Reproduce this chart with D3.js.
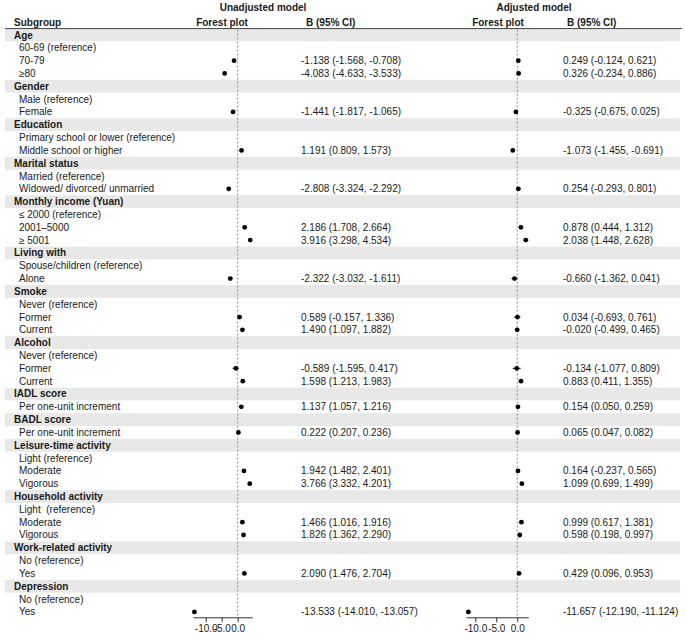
<!DOCTYPE html>
<html>
<head>
<meta charset="utf-8">
<script src="https://cdn.jsdelivr.net/npm/d3@7"></script>
<style>
  body { margin: 0; background: #fff; }
  svg { font-family: "Liberation Sans", Arial, Helvetica, sans-serif; }
  .lbl { font-size: 10px; fill: #1a1a1a; }
  .hdr { font-size: 10px; font-weight: bold; fill: #1a1a1a; }
  .axis text { font-size: 10px; fill: #1a1a1a; font-family: "Liberation Sans", Arial, sans-serif; }
  .axis line, .axis path { stroke: #333; }
</style>
</head>
<body>
<div id="chart"></div>
<script>
// subgroup rows, top to bottom
var labels = [
  'Age', '60-69 (reference)', '70-79', '\u226580',
  'Gender', 'Male (reference)', 'Female',
  'Education', 'Primary school or lower (reference)', 'Middle school or higher',
  'Marital status', 'Married (reference)', 'Widowed/ divorced/ unmarried',
  'Monthly income (Yuan)', '\u2264 2000 (reference)', '2001\u20135000', '\u2265 5001',
  'Living with', 'Spouse/children (reference)', 'Alone',
  'Smoke', 'Never (reference)', 'Former', 'Current',
  'Alcohol', 'Never (reference)', 'Former', 'Current',
  'IADL score', 'Per one-unit increment',
  'BADL score', 'Per one-unit increment',
  'Leisure-time activity', 'Light (reference)', 'Moderate', 'Vigorous',
  'Household activity', 'Light  (reference)', 'Moderate', 'Vigorous',
  'Work-related activity', 'No (reference)', 'Yes',
  'Depression', 'No (reference)', 'Yes'
];
// row indexes of section headers (shaded, bold)
var headerRows = [0, 4, 7, 10, 13, 17, 20, 24, 28, 30, 32, 36, 40, 43];

// unadjusted model: estimate, lower, upper (null = no estimate)
var unEst = [null, null, -1.138, -4.083, null, null, -1.441, null, null, 1.191, null, null, -2.808,
  null, null, 2.186, 3.916, null, null, -2.322, null, null, 0.589, 1.490, null, null, -0.589, 1.598,
  null, 1.137, null, 0.222, null, null, 1.942, 3.766, null, null, 1.466, 1.826, null, null, 2.090,
  null, null, -13.533];
var unLo = [null, null, -1.568, -4.633, null, null, -1.817, null, null, 0.809, null, null, -3.324,
  null, null, 1.708, 3.298, null, null, -3.032, null, null, -0.157, 1.097, null, null, -1.595, 1.213,
  null, 1.057, null, 0.207, null, null, 1.482, 3.332, null, null, 1.016, 1.362, null, null, 1.476,
  null, null, -14.010];
var unHi = [null, null, -0.708, -3.533, null, null, -1.065, null, null, 1.573, null, null, -2.292,
  null, null, 2.664, 4.534, null, null, -1.611, null, null, 1.336, 1.882, null, null, 0.417, 1.983,
  null, 1.216, null, 0.236, null, null, 2.401, 4.201, null, null, 1.916, 2.290, null, null, 2.704,
  null, null, -13.057];

// adjusted model
var adEst = [null, null, 0.249, 0.326, null, null, -0.325, null, null, -1.073, null, null, 0.254,
  null, null, 0.878, 2.038, null, null, -0.660, null, null, 0.034, -0.020, null, null, -0.134, 0.883,
  null, 0.154, null, 0.065, null, null, 0.164, 1.099, null, null, 0.999, 0.598, null, null, 0.429,
  null, null, -11.657];
var adLo = [null, null, -0.124, -0.234, null, null, -0.675, null, null, -1.455, null, null, -0.293,
  null, null, 0.444, 1.448, null, null, -1.362, null, null, -0.693, -0.499, null, null, -1.077, 0.411,
  null, 0.050, null, 0.047, null, null, -0.237, 0.699, null, null, 0.617, 0.198, null, null, 0.096,
  null, null, -12.190];
var adHi = [null, null, 0.621, 0.886, null, null, 0.025, null, null, -0.691, null, null, 0.801,
  null, null, 1.312, 2.628, null, null, 0.041, null, null, 0.761, 0.465, null, null, 0.809, 1.355,
  null, 0.259, null, 0.082, null, null, 0.565, 1.499, null, null, 1.381, 0.997, null, null, 0.953,
  null, null, -11.124];

var tickVals = [-10, -5, 0];

var W = 685, H = 639;
var loc = d3.formatLocale({decimal: '.', thousands: ',', grouping: [3], currency: ['', ''], minus: '-'});
var fmt = loc.format('.3f');

var svg = d3.select('#chart').append('svg')
  .attr('width', W)
  .attr('height', H);

// row positions
var y = d3.scaleLinear().domain([0, labels.length - 1]).range([35, 611.9]);
var rowH = y(1) - y(0);

// header row shading
svg.selectAll('rect.band')
  .data(headerRows)
  .enter().append('rect')
  .attr('class', 'band')
  .attr('x', 5)
  .attr('width', 675)
  .attr('y', function(i) { return y(i) - rowH / 2; })
  .attr('height', rowH)
  .attr('fill', '#e8e8e8');

svg.append('line')
  .attr('x1', 5).attr('x2', 682)
  .attr('y1', y(0) - rowH / 2).attr('y2', y(0) - rowH / 2)
  .attr('stroke', '#444').attr('stroke-width', 1);

// column headings
svg.append('text').attr('class', 'hdr').attr('x', 14).attr('y', 25.5).text('Subgroup');
svg.append('text').attr('class', 'hdr').attr('x', 263).attr('y', 10.5).attr('text-anchor', 'middle').text('Unadjusted model');
svg.append('text').attr('class', 'hdr').attr('x', 222).attr('y', 25.5).attr('text-anchor', 'middle').text('Forest plot');
svg.append('text').attr('class', 'hdr').attr('x', 306).attr('y', 25.5).text('B (95% CI)');
svg.append('text').attr('class', 'hdr').attr('x', 534).attr('y', 10.5).attr('text-anchor', 'middle').text('Adjusted model');
svg.append('text').attr('class', 'hdr').attr('x', 498).attr('y', 25.5).attr('text-anchor', 'middle').text('Forest plot');
svg.append('text').attr('class', 'hdr').attr('x', 567).attr('y', 25.5).text('B (95% CI)');

// subgroup labels
svg.selectAll('text.row')
  .data(labels)
  .enter().append('text')
  .attr('class', function(d, i) { return headerRows.indexOf(i) >= 0 ? 'row hdr' : 'row lbl'; })
  .attr('x', function(d, i) { return headerRows.indexOf(i) >= 0 ? 14 : 19; })
  .attr('y', function(d, i) { return y(i); })
  .attr('dy', '0.35em')
  .attr('xml:space', 'preserve')
  .text(function(d) { return d; });

function forest(est, lo, hi, range, textX) {
  var rows = est.map(function(e, i) { return {i: i, e: e, lo: lo[i], hi: hi[i]}; })
    .filter(function(d) { return d.e !== null; });
  var x = d3.scaleLinear()
    .domain([d3.min(rows, function(d) { return d.lo; }), d3.max(rows, function(d) { return d.hi; })])
    .range(range);
  var axisY = y(labels.length - 1) + 5.4;

  // reference line at zero
  svg.append('line')
    .attr('x1', x(0)).attr('x2', x(0))
    .attr('y1', y(0) - rowH / 2 + 1).attr('y2', axisY)
    .attr('stroke', '#8a8a8a')
    .attr('stroke-dasharray', '2,2');

  var g = svg.append('g');
  g.selectAll('line.ci')
    .data(rows).enter().append('line')
    .attr('class', 'ci')
    .attr('x1', function(d) { return x(d.lo); })
    .attr('x2', function(d) { return x(d.hi); })
    .attr('y1', function(d) { return y(d.i); })
    .attr('y2', function(d) { return y(d.i); })
    .attr('stroke', '#000');
  g.selectAll('circle')
    .data(rows).enter().append('circle')
    .attr('cx', function(d) { return x(d.e); })
    .attr('cy', function(d) { return y(d.i); })
    .attr('r', 2.4)
    .attr('fill', '#000');

  svg.selectAll(null)
    .data(rows).enter().append('text')
    .attr('class', 'lbl')
    .attr('x', textX)
    .attr('y', function(d) { return y(d.i); })
    .attr('dy', '0.35em')
    .text(function(d) { return fmt(d.e) + ' (' + fmt(d.lo) + ', ' + fmt(d.hi) + ')'; });

  svg.append('g')
    .attr('class', 'axis')
    .attr('transform', 'translate(0,' + axisY + ')')
    .call(d3.axisBottom(x).tickValues(tickVals).tickFormat(loc.format('.1f')).tickSize(5).tickSizeOuter(0).tickPadding(3));
}

forest(unEst, unLo, unHi, [192.9, 252.2], 301);
forest(adEst, adLo, adHi, [466.1, 528.3], 563);
</script>
</body>
</html>
